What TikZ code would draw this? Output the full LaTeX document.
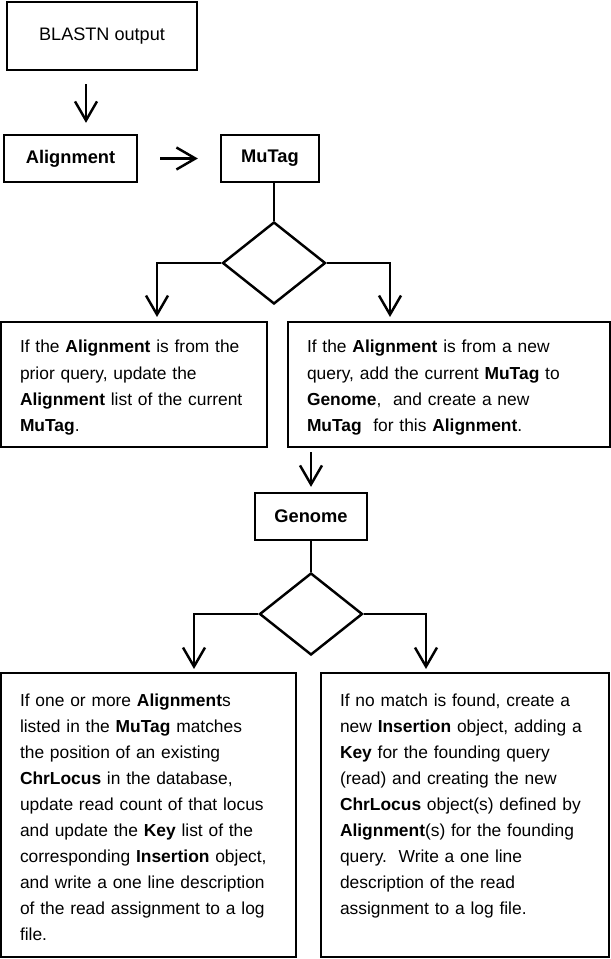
\documentclass[tikz,border=0pt]{standalone}
\usepackage{fontspec}
\setmainfont{Liberation Sans}
\usepackage{tikz}
\usetikzlibrary{arrows.meta, positioning, shapes.geometric}

\begin{document}
\begin{tikzpicture}[
  box/.style={rectangle, draw=black, line width=1.3pt,
              minimum height=0.94cm, font=\fontsize{10.4}{13}\selectfont\bfseries,
              align=center, inner sep=0pt},
  txt/.style={rectangle, draw=black, line width=1.4pt,
              font=\fontsize{9.9}{14.8}\selectfont, align=left,
              inner xsep=0.38cm, inner ysep=0pt},
  dec/.style={diamond, draw=black, line width=1.4pt, inner sep=0pt,
              minimum width=2.06cm, minimum height=1.64cm},
  line/.style={line width=1.4pt},
  arr/.style={line, -{Straight Barb[length=0.38cm, width=0.44cm]}}
]
  \useasboundingbox (0,0) rectangle (12.22,-19.18);
  \node[box, line width=1.6pt, minimum width=3.8cm, minimum height=1.36cm,
        font=\fontsize{10.3}{13}\selectfont] (blast) at (2.04,-0.72) {BLASTN output};
  \node[box, minimum width=2.66cm] (aln) at (1.41,-3.17) {Alignment};
  \node[box, minimum width=1.96cm] (mut) at (5.4,-3.17) {MuTag};
  \node[dec] (dec1) at (5.48,-5.26) {};
  \node[txt, text width=4.56cm, text height=0.62cm, text depth=1.88cm] (prior) at (2.68,-7.69)
    {If the \textbf{Alignment} is from the\\
     prior query, update the\\
     \textbf{Alignment} list of the current\\
     \textbf{MuTag}.};
  \node[txt, text width=5.68cm, text height=0.62cm, text depth=1.88cm] (newq) at (8.98,-7.69)
    {If the \textbf{Alignment} is from a new\\
     query, add the current \textbf{MuTag} to\\
     \textbf{Genome},\ \ and create a new\\
     \textbf{MuTag}\ \ for this \textbf{Alignment}.};
  \node[box, minimum width=2.24cm] (gen) at (6.22,-10.33) {Genome};
  \node[dec] (dec2) at (6.22,-12.28) {};
  \node[txt, text width=5.14cm, text height=0.66cm, text depth=5.02cm] (match) at (2.97,-16.3)
    {If one or more \textbf{Alignment}s\\
     listed in the \textbf{MuTag} matches\\
     the position of an existing\\
     \textbf{ChrLocus} in the database,\\
     update read count of that locus\\
     and update the \textbf{Key} list of the\\
     corresponding \textbf{Insertion} object,\\
     and write a one line description\\
     of the read assignment to a log\\
     file.};
  \node[txt, text width=5.0cm, text height=0.66cm, text depth=5.02cm] (nomatch) at (9.3,-16.3)
    {If no match is found, create a\\
     new \textbf{Insertion} object, adding a\\
     \textbf{Key} for the founding query\\
     (read) and creating the new\\
     \textbf{ChrLocus} object(s) defined by\\
     \textbf{Alignment}(s) for the founding\\
     query.\ \ Write a one line\\
     description of the read\\
     assignment to a log file.};
  \coordinate (l1) at (3.14,-6.34);
  \coordinate (r1) at (7.8,-6.34);
  \coordinate (l2) at (3.88,-13.38);
  \coordinate (r2) at (8.52,-13.38);
  \draw[arr, shorten <=0.26cm, shorten >=0.22cm]
    ([xshift=0.31cm]aln.north |- blast.south) -- ([xshift=0.31cm]aln.north);
  \draw[arr, shorten <=0.44cm, shorten >=0.44cm] (aln) -- (mut);
  \draw[line] (mut.south -| dec1.north) -- (dec1.north);
  \draw[arr] (dec1.west) -| (l1);
  \draw[arr] (dec1.east) -| (r1);
  \draw[arr, shorten <=0.08cm, shorten >=0.1cm] (newq.south -| gen.north) -- (gen.north);
  \draw[line] (gen.south) -- (dec2.north);
  \draw[arr] (dec2.west) -| (l2);
  \draw[arr] (dec2.east) -| (r2);
\end{tikzpicture}
\end{document}
